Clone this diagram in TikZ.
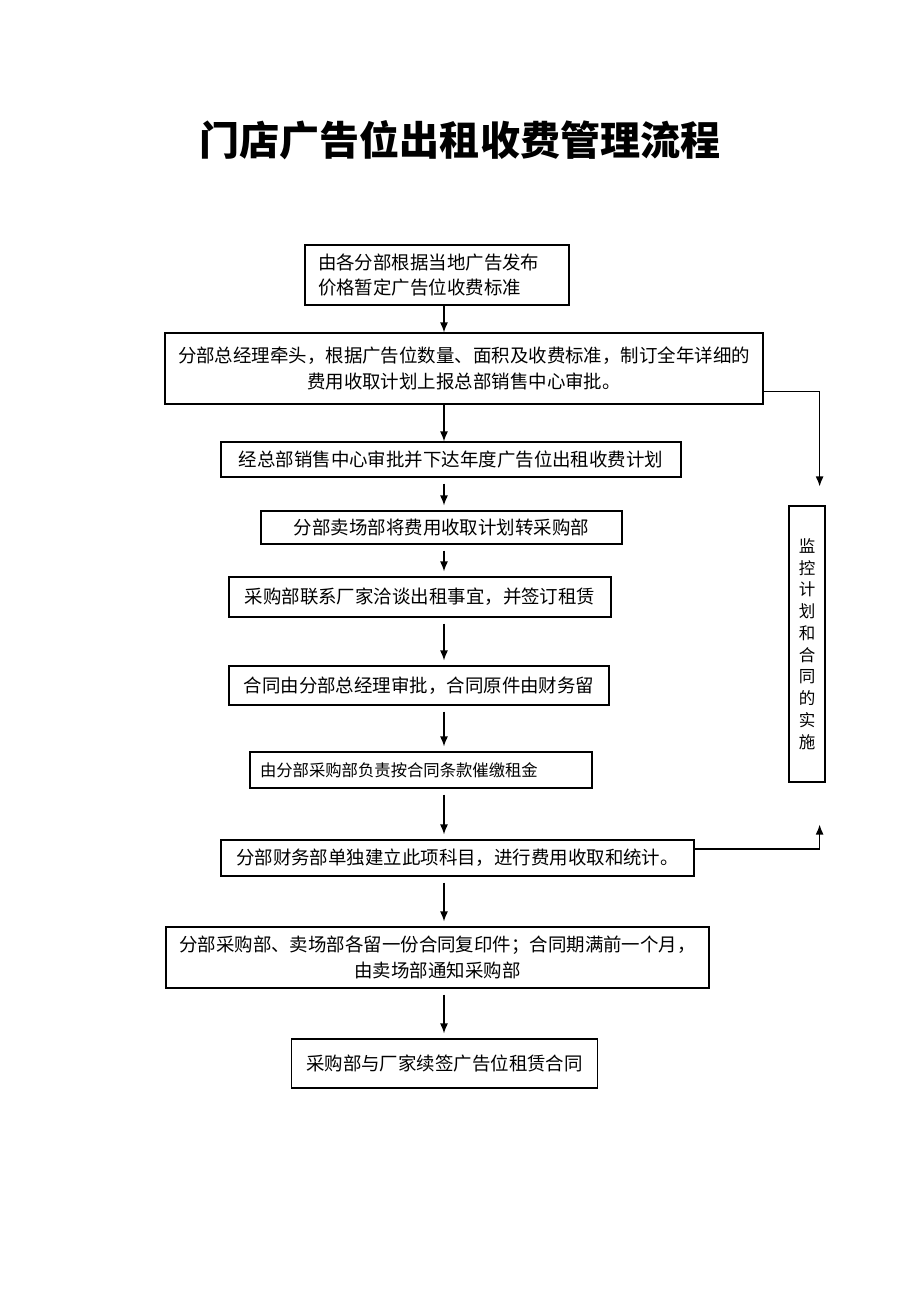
\documentclass[tikz,border=0pt]{standalone}
\usepackage{fontspec}
\setmainfont{Noto Sans CJK SC}
\usepackage{tikz}
\usetikzlibrary{arrows.meta,calc}
\tikzset{
	flowbox/.style={rectangle, draw=black, line width=0.7pt, inner sep=0pt, align=center, font=\fontsize{10.5}{14.8}\selectfont},
	sidebox/.style={flowbox, font=\fontsize{9.4}{12.4}\selectfont},
	flowarrow/.style={-{Latex[length=2mm,width=1.6mm]}, line width=0.7pt},
	gaparrow/.style={flowarrow, shorten <=0.12cm, shorten >=0.1cm}
}

\begin{document}
\begin{tikzpicture}[x=0.02cm,y=-0.02cm]
			\useasboundingbox (0,0) rectangle (920,1302);
			
			\node (title) at (460,140) {\fontsize{22.8}{27}\selectfont\bfseries 门店广告位出租收费管理流程};
			
			\node[flowbox, minimum width=5.28cm, minimum height=1.2cm, inner xsep=0.26cm, text width=4.76cm, align=left, font=\fontsize{10.5}{13.7}\selectfont] (b1) at (437,275) {由各分部根据当地广告发布\\价格暂定广告位收费标准};
			\node[flowbox, minimum width=11.96cm, minimum height=1.42cm] (b2) at (464,368.5) {分部总经理牵头，根据广告位数量、面积及收费标准，制订全年详细的\\费用收取计划上报总部销售中心审批。};
			\node[flowbox, minimum width=9.2cm, minimum height=0.7cm] (b3) at (451,459.5) {经总部销售中心审批并下达年度广告位出租收费计划};
			\node[flowbox, minimum width=7.22cm, minimum height=0.66cm] (b4) at (441.5,527.5) {分部卖场部将费用收取计划转采购部};
			\node[flowbox, minimum width=7.64cm, minimum height=0.8cm] (b5) at (420,597) {采购部联系厂家洽谈出租事宜，并签订租赁};
			\node[flowbox, minimum width=7.6cm, minimum height=0.78cm] (b6) at (419,685.5) {合同由分部总经理审批，合同原件由财务留};
			\node[flowbox, minimum width=6.84cm, minimum height=0.72cm, inner xsep=0.2cm, text width=6.44cm, align=left, font=\fontsize{9.3}{12}\selectfont] (b7) at (421,770) {由分部采购部负责按合同条款催缴租金};
			\node[flowbox, minimum width=9.46cm, minimum height=0.72cm] (b8) at (457.5,858) {分部财务部单独建立此项科目，进行费用收取和统计。};
			\node[flowbox, minimum width=10.86cm, minimum height=1.22cm] (b9) at (437.5,957.5) {分部采购部、卖场部各留一份合同复印件；合同期满前一个月，\\由卖场部通知采购部};
			\node[flowbox, minimum width=6.12cm, minimum height=0.98cm] (b10) at (444.5,1063.5) {采购部与厂家续签广告位租赁合同};
			
			\node[sidebox, minimum width=0.72cm, minimum height=5.52cm] (side) at (807,644) {监\\控\\计\\划\\和\\合\\同\\的\\实\\施};
			
			% main flow
			\coordinate (axis) at (444,0);
			\draw[flowarrow] (b1.south -| axis) -- (b2.north -| axis);
			\draw[flowarrow] (b2.south -| axis) -- (b3.north -| axis);
			\draw[gaparrow] (b3.south -| axis) -- (b4.north -| axis);
			\draw[gaparrow] (b4.south -| axis) -- (b5.north -| axis);
			\draw[gaparrow] (b5.south -| axis) -- (b6.north -| axis);
			\draw[gaparrow] (b6.south -| axis) -- (b7.north -| axis);
			\draw[gaparrow] (b7.south -| axis) -- (b8.north -| axis);
			\draw[gaparrow] (b8.south -| axis) -- (b9.north -| axis);
			\draw[gaparrow] (b9.south -| axis) -- (b10.north -| axis);
			
			% to the monitoring box
			\coordinate (m1) at ($(side.north east)+(-6,-19)$);
			\coordinate (m2) at ($(side.south east)+(-6,42)$);
			\draw[flowarrow] ($(b2.east)+(0,23)$) -| (m1);
			\draw[flowarrow] ($(b8.east)+(0,-9)$) -| (m2);
		\end{tikzpicture}
\end{document}
